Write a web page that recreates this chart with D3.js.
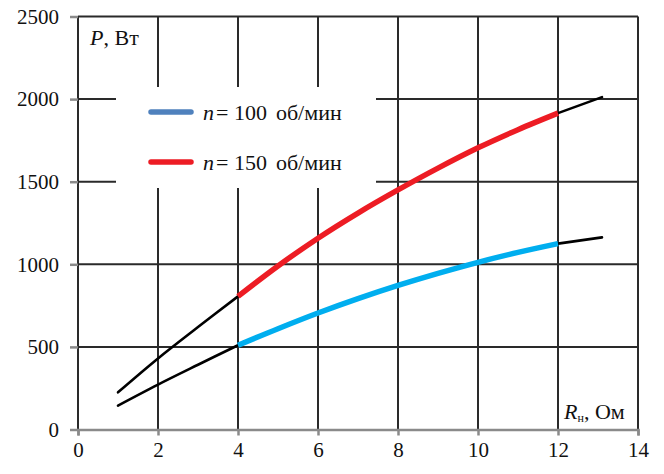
<!DOCTYPE html>
<html><head><meta charset="utf-8">
<script src="https://cdn.jsdelivr.net/npm/d3@7"></script>
<style>
html,body{margin:0;padding:0;background:#fff;}
svg{display:block;}
</style></head>
<body>
<svg id="chart" width="664" height="474"></svg>
<script>
// ---- data ----
const resistance = [1, 2, 3, 4, 5, 6, 7, 8, 9, 10, 11, 12, 13.1];
const power100 = [145, 272, 392, 510, 610, 705, 792, 872, 945, 1012, 1072, 1125, 1163];
const power150 = [225, 430, 620, 806, 990, 1158, 1310, 1450, 1582, 1705, 1815, 1915, 2012];
const xTicks = [0, 2, 4, 6, 8, 10, 12, 14];
const yTicks = [0, 500, 1000, 1500, 2000, 2500];
const seriesNames = ["100", "150"];
const highlightRange = [4, 12];

const FONT = "'Liberation Serif'";
// prime the local font so it is ready when the SVG text is laid out
(function () {
  const c = document.createElement("canvas").getContext("2d");
  ["", "italic "].forEach(st => {
    c.font = `${st}22px 'Liberation Serif', monospace`;
    c.measureText("2500 P, Вт об/мин n = 100 R н Ом");
  });
})();

const svg = d3.select("#chart");
const m = {left: 78, right: 638, top: 16.5, bottom: 429.5};
const x = d3.scaleLinear().domain([0, 14]).range([m.left, m.right]);
const y = d3.scaleLinear().domain([0, 2500]).range([m.bottom, m.top]);

const gridColor = "#2a2a2a";
const tickColor = "#8a8a8a";

// grid lines
svg.append("g").selectAll("line").data(xTicks.filter(d => d > 0)).join("line")
  .attr("x1", d => x(d)).attr("x2", d => x(d))
  .attr("y1", m.top).attr("y2", m.bottom)
  .attr("stroke", gridColor).attr("stroke-width", 2);
svg.append("g").selectAll("line").data(yTicks.filter(d => d > 0)).join("line")
  .attr("x1", m.left).attr("x2", m.right)
  .attr("y1", d => y(d)).attr("y2", d => y(d))
  .attr("stroke", gridColor).attr("stroke-width", 2);

// left axis line
svg.append("line").attr("x1", m.left).attr("x2", m.left).attr("y1", m.top).attr("y2", m.bottom)
  .attr("stroke", gridColor).attr("stroke-width", 2);

// y axis
const yAxis = d3.axisLeft(y).tickValues(yTicks).tickFormat(d3.format("d")).tickSize(8).tickPadding(11);
const yg = svg.append("g").attr("transform", `translate(${m.left},0)`).call(yAxis).attr("font-family", FONT);
yg.select(".domain").remove();
yg.selectAll(".tick line").attr("stroke", tickColor).attr("stroke-width", 2.5);
yg.selectAll(".tick text").attr("font-family", FONT).attr("font-size", 21).attr("fill", "#111");

// x axis
const xAxis = d3.axisBottom(x).tickValues(xTicks).tickFormat(d3.format("d")).tickSize(6).tickPadding(7);
const xg = svg.append("g").attr("transform", `translate(0,${m.bottom})`).call(xAxis).attr("font-family", FONT);
xg.select(".domain").attr("stroke", tickColor).attr("stroke-width", 2.5);
xg.selectAll(".tick line").attr("stroke", tickColor).attr("stroke-width", 2.5);
xg.selectAll(".tick text").attr("font-family", FONT).attr("font-size", 21).attr("fill", "#111");

// curves
const curve = d3.curveCatmullRom.alpha(0.5);
function seg(vals, lo, hi) {
  return resistance.map((r, i) => [r, vals[i]]).filter(p => p[0] >= lo && p[0] <= hi);
}
const line = d3.line().x(d => x(d[0])).y(d => y(d[1])).curve(curve);

const series = [
  {name: seriesNames[0], vals: power100, color: "#00aeef", legend: "#4f81bd"},
  {name: seriesNames[1], vals: power150, color: "#ed1c24", legend: "#ed1c24"}
];

// legend box (white, covers grid)
svg.append("rect").attr("x", 116).attr("y", 87).attr("width", 260).attr("height", 101).attr("fill", "#fff");

series.forEach(s => {
  svg.append("path").attr("d", line(seg(s.vals, 1, 4))).attr("fill", "none")
    .attr("stroke", "#000").attr("stroke-width", 2.6).attr("stroke-linecap", "round");
  svg.append("path").attr("d", line(seg(s.vals, 12, 14))).attr("fill", "none")
    .attr("stroke", "#000").attr("stroke-width", 2.6).attr("stroke-linecap", "round");
  svg.append("path").attr("d", line(seg(s.vals, highlightRange[0], highlightRange[1]))).attr("fill", "none")
    .attr("stroke", s.color).attr("stroke-width", 5.5);
});

// legend
series.forEach((s, i) => {
  const ly = 112 + i * 50;
  svg.append("line").attr("x1", 151).attr("x2", 191).attr("y1", ly).attr("y2", ly)
    .attr("stroke", s.legend).attr("stroke-width", 5.5).attr("stroke-linecap", "round");
  const t = svg.append("text").attr("x", 203).attr("y", ly + 8)
    .attr("font-family", FONT).attr("font-size", 22).attr("fill", "#111");
  t.append("tspan").attr("font-style", "italic").text("n");
  t.append("tspan").attr("dx", 2).text("= " + s.name);
  t.append("tspan").attr("dx", 9).text("об/мин");
});

// axis titles
const pt = svg.append("text").attr("x", 90).attr("y", 45)
  .attr("font-family", FONT).attr("font-size", 22).attr("fill", "#111");
pt.append("tspan").attr("font-style", "italic").text("P");
pt.append("tspan").text(", Вт");

const rt = svg.append("text").attr("x", 564).attr("y", 419)
  .attr("font-family", FONT).attr("font-size", 22).attr("fill", "#111");
rt.append("tspan").attr("font-style", "italic").text("R");
rt.append("tspan").attr("font-size", 12).attr("dy", 3).text("н");
rt.append("tspan").attr("dy", -3).text(", Ом");
</script>
</body></html>
